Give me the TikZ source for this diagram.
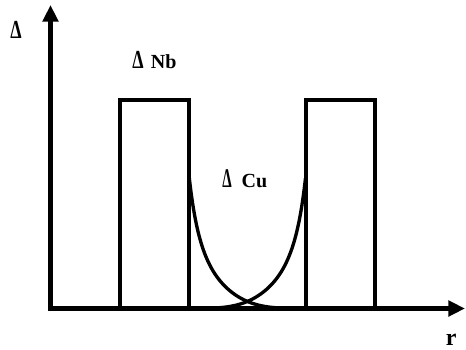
\documentclass[tikz,border=0pt]{standalone}
\usepackage{fontspec}
\setmainfont{Liberation Serif}
\usetikzlibrary{arrows.meta}
\newcommand{\bigDelta}{\scalebox{0.9}[1.3]{Δ}}
\newcommand{\slimDelta}{\scalebox{0.75}[1.35]{Δ}}
\begin{document}
\begin{tikzpicture}[x=0.75pt,y=-0.75pt,
  axis/.style={line width=3.5pt,-{Triangle[length=12.5pt,width=11.5pt]}},
  wall/.style={line width=3pt,line join=miter},
  gap/.style={line width=2.5pt},
  lbl/.style={inner sep=0pt,anchor=base west,font=\fontsize{15}{17}\selectfont\bfseries}]
\path[use as bounding box] (0,0) rectangle (466,349);
% axes
\coordinate (o) at (50.5,308.5);
\coordinate (xend) at (465,308.5);
\coordinate (yend) at (50.5,5);
\draw[axis] (48.5,308.5) -- (xend);
\draw[axis] (50.5,310.5) -- (yend);
% Nb walls
\draw[wall] (119.5,308.5) -- (119.5,99.7) -- (189.3,99.7) -- (189.3,308.5);
\draw[wall] (305.5,308.5) -- (305.5,99.7) -- (375.3,99.7) -- (375.3,308.5);
% Cu gap decays
\draw[gap] plot[domain=0:115,samples=120,smooth] ({189.3+\x},{308.5-130.5*(29/(29+\x))^2*exp(-(\x/65)^3)});
\draw[gap] plot[domain=0:115,samples=120,smooth] ({305.5-\x},{308.5-130.5*(29/(29+\x))^2*exp(-(\x/65)^3)});
% labels
\node[lbl] (dl) at (10,39) {\bigDelta};
\node[lbl] (dnb) at (132,69) {\bigDelta\hspace{5.5pt}Nb};
\node[lbl] (dcu) at (222,187) {\slimDelta\hspace{7.5pt}Cu};
\node[lbl,font=\fontsize{18}{20}\selectfont\bfseries] (r) at (445.5,345) {r};
\end{tikzpicture}
\end{document}
